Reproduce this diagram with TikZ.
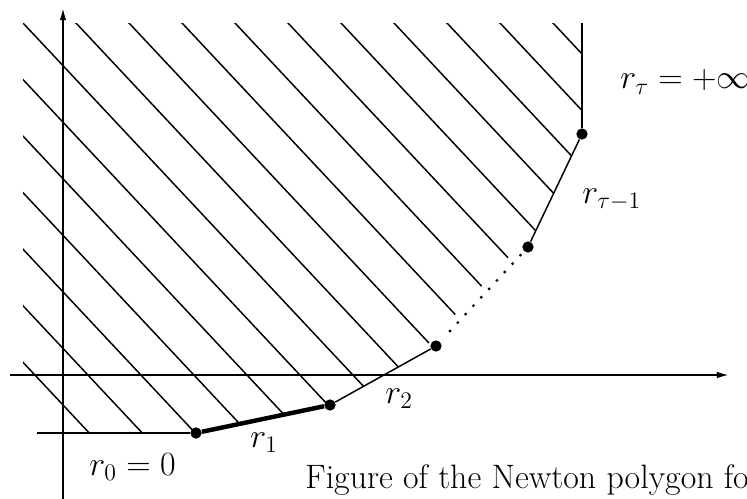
\RequirePackage{fix-cm}
\documentclass[tikz,border=0pt]{standalone}
\usepackage{amsmath}
\usepackage{tikz}
\usetikzlibrary{arrows.meta}

\tikzset{
    vertex/.style={circle, fill, inner sep=0pt, minimum size=6.1pt},
    lbl/.style={inner sep=0pt, anchor=base west, font=\fontsize{18.3}{22}\selectfont},
    hatch/.style={line width=0.8pt},
    edge/.style={line width=0.8pt},
    axis/.style={line width=0.9pt, -{Latex[length=6.5pt,width=3.5pt]}},
    dots/.style={line width=1.7pt, line cap=round, dash pattern=on 0pt off 6.21pt,
        shorten <=7.83pt, shorten >=2.16pt}
}

\begin{document}
\begin{tikzpicture}[x=0.54pt, y=-0.54pt]
    \useasboundingbox (0,0) rectangle (747,499);
    \coordinate (ybot) at (63,505);
    \coordinate (ytop) at (63,8);
    \coordinate (xleft) at (10,375);
    \coordinate (xright) at (729,375);
    \coordinate (b0) at (37,433);
    \coordinate (vtop) at (582,23);
    \node[vertex] (p0) at (196,433) {};
    \node[vertex] (p1) at (330,405) {};
    \node[vertex] (p2) at (436,346) {};
    \node[vertex] (p3) at (528,247) {};
    \node[vertex] (p4) at (582,134) {};
    \begin{scope}
        \clip (23,23) -- (vtop) -- (p4.center) -- (p3.center) -- (518,247) -- (426,346)
            -- (p2.center) -- (p1.center) -- (p0.center) -- (23,433) -- cycle;
        \foreach \k in {-6,...,10}
            \draw[hatch] ({23+53*\k-500},{23-500*1.067}) -- ({23+53*\k+600},{23+600*1.067});
    \end{scope}
    \draw[axis] (ybot) -- (ytop);
    \draw[axis] (xleft) -- (xright);
    \draw[edge] (b0) -- (p0);
    \draw[line width=2.4pt] (p0) -- (p1);
    \draw[edge] (p1) -- (p2);
    \draw[dots] (p2) -- (p3);
    \draw[edge] (p3) -- (p4);
    \draw[edge] (p4) -- (vtop);
    \node[lbl] (rtau) at (620,89) {$r_\tau = +\infty$};
    \node[lbl] (rtaum) at (582,203) {$r_{\tau-1}$};
    \node[lbl] (r2) at (385,403) {$r_2$};
    \node[lbl] (r1) at (250,447) {$r_1$};
    \node[lbl] (r0) at (89,475) {$r_0 = 0$};
    \node[lbl] (cap) at (305,488) {Figure of the Newton polygon fo};
\end{tikzpicture}
\end{document}
